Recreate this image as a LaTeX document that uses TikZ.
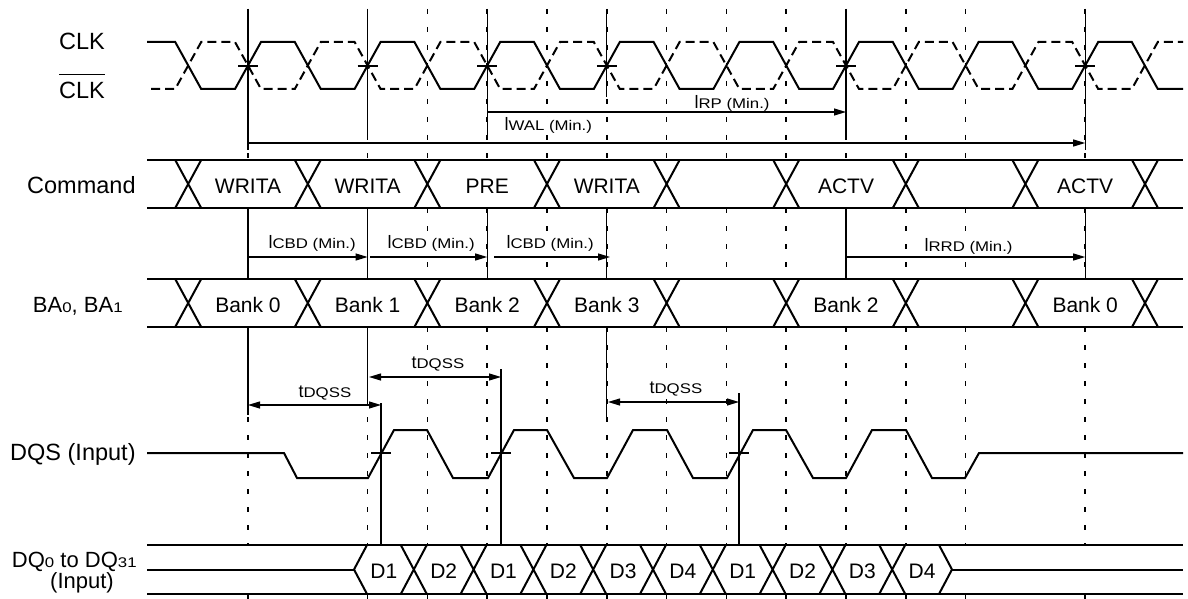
\documentclass[tikz,border=0pt]{standalone}
\usepackage{fontspec}
\setmainfont{Liberation Sans}
\newfontfamily\subfnt[FakeStretch=1.2]{Liberation Sans}
\usetikzlibrary{arrows.meta}
\newcommand\mainsz{\fontsize{9}{10}\selectfont}
\newcommand\subsz{\subfnt\fontsize{7}{8}\selectfont}
\newcommand\tlab[2]{{\mainsz #1}{\subsz #2}}
\newcommand\minlab[2]{{\mainsz #1}{\subsz #2 (Min.)}}
\newcommand\bsub[1]{{\subfnt\fontsize{7}{8}\selectfont #1}}
\tikzset{
  sig/.style={line width=1pt, line join=miter},
  clkb/.style={line width=1pt, dash pattern=on 4.5pt off 2.5pt},
  bus/.style={line width=1pt},
  refl/.style={line width=0.55pt},
  gridl/.style={line width=0.8pt, dash pattern=on 2.5pt off 6.5pt},
  meas/.style={line width=0.55pt, -{Triangle[length=6pt,width=3.5pt]}},
  dmeas/.style={line width=0.55pt, {Triangle[length=6pt,width=3.5pt]}-{Triangle[length=6pt,width=3.5pt]}},
  lbl/.style={font=\fontsize{11.75}{14}\selectfont, inner sep=0pt},
  lbls/.style={font=\fontsize{11}{12}\selectfont, inner sep=0pt},
  dat/.style={font=\fontsize{10.5}{12}\selectfont, inner sep=0pt, anchor=base},
  ann/.style={inner sep=0.6pt, anchor=base west, fill=white},
}
\begin{document}
\begin{tikzpicture}[x=0.5pt,y=-0.5pt]
\fill[white] (0,0) rectangle (1188,599);
\useasboundingbox (0,0) rectangle (1188,599);

% dashed grid lines
\foreach \g in {248,367.6,427.4,487.2,547,606.8,666.6,726.4,786.2,846,905.8,965.6,1085.2} {
  \draw[gridl] (\g,9) -- (\g,160);
  \draw[gridl] (\g,208) -- (\g,279);
  \draw[gridl] (\g,327) -- (\g,545);
  \draw[gridl] (\g,594) -- (\g,599);
}
% solid reference lines
\foreach \g/\a/\b in {248/9/150, 367.6/9/137, 487.2/9/137, 606.8/9/97, 846/9/137, 1085.2/9/150,
  248/208/279, 367.6/208/279, 487.2/208/279, 606.8/208/279, 846/208/279, 1085.2/208/279,
  248/327/415, 367.6/327/405, 606.8/327/417, 381/403/545, 501/369/545, 739/393/545} {
  \draw[refl] (\g,\a) -- (\g,\b);
}

% signal labels
\node[lbl, anchor=base] (lclk) at (82,50) {CLK};
\node[lbl, anchor=base] (lclkb) at (82,98) {\setbox0\hbox{CLK}\rlap{\rule[\dimexpr\ht0+3.2pt\relax]{\wd0}{0.6pt}}\box0};
\node[lbl, anchor=base east] (lcmd) at (136,193) {Command};
\node[lbls, anchor=base east] (lba) at (123,312) {BA\bsub{0}, BA\bsub{1}};
\node[lbl, anchor=base east] (ldqs) at (136,460) {DQS (Input)};
\node[lbls, anchor=base east] (ldq) at (137,567) {DQ\bsub{0} to DQ\bsub{31}};
\node[lbls, anchor=base] (ldqi) at (82,588) {(Input)};

% CLK and /CLK
\draw[sig] (147,42) \foreach \k in {0,...,7} { -- ({175.2+119.6*\k},42) -- ({201.2+119.6*\k},89) -- ({235+119.6*\k},89) -- ({261+119.6*\k},42) } -- (1131.8,42) -- (1157.8,89) -- (1183,89);
\draw[clkb] (151,89) \foreach \k in {0,...,7} { -- ({175.2+119.6*\k},89) -- ({201.2+119.6*\k},42) -- ({235+119.6*\k},42) -- ({261+119.6*\k},89) } -- (1131.8,89) -- (1157.8,42) -- (1183,42);
\foreach \g in {248,367.6,487.2,606.8,846,1085.2} { \draw[refl] (\g-10,66) -- (\g+10,66); }

% Command bus
\draw[bus] (147,160) -- (1183,160) (147,208) -- (1183,208);
\foreach \k in {0,...,8} {
  \draw[sig] ({175.2+119.6*\k},160) -- ({201.2+119.6*\k},208) ({175.2+119.6*\k},208) -- ({201.2+119.6*\k},160);
}
\node[dat] (c1) at (248,193) {WRITA};
\node[dat] (c2) at (367.6,193) {WRITA};
\node[dat] (c3) at (487.2,193) {PRE};
\node[dat] (c4) at (606.8,193) {WRITA};
\node[dat] (c5) at (846,193) {ACTV};
\node[dat] (c6) at (1085.2,193) {ACTV};

% BA bus
\draw[bus] (147,279) -- (1183,279) (147,327) -- (1183,327);
\foreach \k in {0,...,8} {
  \draw[sig] ({175.2+119.6*\k},279) -- ({201.2+119.6*\k},327) ({175.2+119.6*\k},327) -- ({201.2+119.6*\k},279);
}
\node[dat] (b1) at (248,312) {Bank 0};
\node[dat] (b2) at (367.6,312) {Bank 1};
\node[dat] (b3) at (487.2,312) {Bank 2};
\node[dat] (b4) at (606.8,312) {Bank 3};
\node[dat] (b5) at (846,312) {Bank 2};
\node[dat] (b6) at (1085.2,312) {Bank 0};

% DQS
\draw[sig] (147,453) -- (284,453) -- (297,478) -- (368,478) -- (394,430) -- (427,430) -- (453,478) -- (488,478) -- (514,430) -- (547,430) -- (574,478) -- (607,478) -- (633,430) -- (667,430) -- (693,478) -- (727,478) -- (753,430) -- (786,430) -- (813,478) -- (846,478) -- (872,430) -- (906,430) -- (932,478) -- (965,478) -- (979,453) -- (1183,453);
\foreach \g in {381,501,739} { \draw[refl] (\g-10,453) -- (\g+10,453); }

% DQ bus
\draw[bus] (147,545) -- (1183,545) (147,594) -- (1183,594) (147,569.5) -- (354,569.5) (952,569.5) -- (1183,569.5);
\draw[sig] (367,545) -- (354,569.5) -- (367,594);
\draw[sig] (939,545) -- (952,569.5) -- (939,594);
\foreach \j in {1,...,9} {
  \draw[sig] ({354+59.8*\j-13},545) -- ({354+59.8*\j+13},594) ({354+59.8*\j-13},594) -- ({354+59.8*\j+13},545);
}
\foreach \t [count=\j from 0] in {D1,D2,D1,D2,D3,D4,D1,D2,D3,D4} {
  \node[dat] (d\j) at ({383.9+59.8*\j},578) {\t};
}

% timing labels
\node[ann] (tirp) at (693,109) {\minlab{l}{RP}};
\node[ann] (tiwal) at (503,131) {\minlab{l}{WAL}};
\node[ann] (tcb1) at (267,248) {\minlab{l}{CBD}};
\node[ann] (tcb2) at (386,248) {\minlab{l}{CBD}};
\node[ann] (tcb3) at (505,248) {\minlab{l}{CBD}};
\node[ann] (trr) at (923,251) {\minlab{l}{RRD}};
\node[ann] (tq1) at (297,397) {\tlab{t}{DQSS}};
\node[ann] (tq2) at (410,368) {\tlab{t}{DQSS}};
\node[ann] (tq3) at (648,393) {\tlab{t}{DQSS}};

% timing arrows
\coordinate (irpA) at (487.2,112); \coordinate (irpB) at (846,112);
\coordinate (iwalA) at (248,143); \coordinate (iwalB) at (1085.2,143);
\coordinate (cb1A) at (248,257); \coordinate (cb1B) at (367.6,257);
\coordinate (cb2A) at (370,257); \coordinate (cb2B) at (487.2,257);
\coordinate (cb3A) at (494,257); \coordinate (cb3B) at (610,257);
\coordinate (rrA) at (846,257); \coordinate (rrB) at (1085.2,257);
\coordinate (q1A) at (248,405); \coordinate (q1B) at (381,405);
\coordinate (q2A) at (369,377); \coordinate (q2B) at (501,377);
\coordinate (q3A) at (608,402); \coordinate (q3B) at (739,402);
\draw[meas] (irpA) -- (irpB);
\draw[meas] (iwalA) -- (iwalB);
\draw[meas] (cb1A) -- (cb1B);
\draw[meas] (cb2A) -- (cb2B);
\draw[meas] (cb3A) -- (cb3B);
\draw[meas] (rrA) -- (rrB);
\draw[dmeas] (q1A) -- (q1B);
\draw[dmeas] (q2A) -- (q2B);
\draw[dmeas] (q3A) -- (q3B);
\end{tikzpicture}
\end{document}
